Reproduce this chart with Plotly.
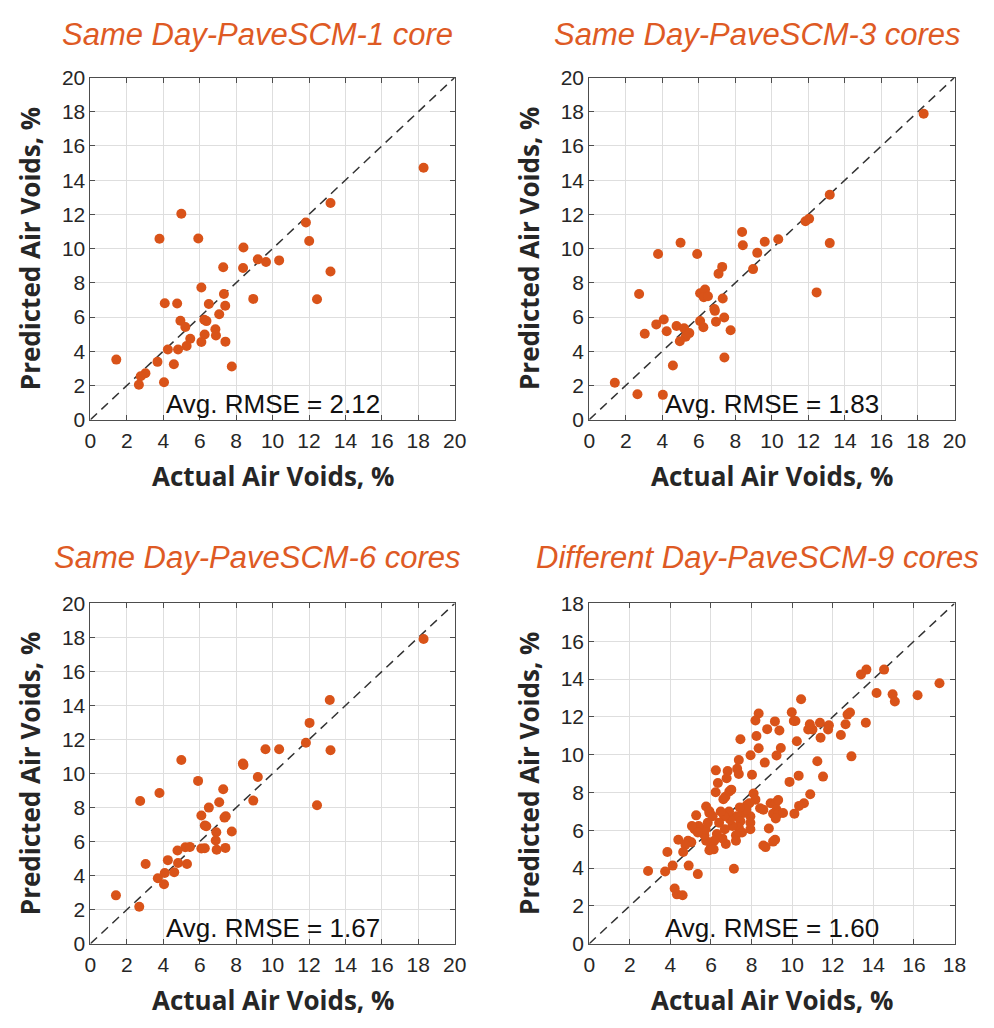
import plotly.graph_objects as go

# ---------------- data ----------------
titles = ["Same Day-PaveSCM-1 core", "Same Day-PaveSCM-3 cores",
          "Same Day-PaveSCM-6 cores", "Different Day-PaveSCM-9 cores"]
rmse_labels = ["Avg. RMSE = 2.12", "Avg. RMSE = 1.83", "Avg. RMSE = 1.67", "Avg. RMSE = 1.60"]
axis_max = [20, 20, 20, 18]

p1_actual = [18.29, 13.18, 11.83, 12.01, 13.18, 12.44, 4.99, 3.79, 5.92, 8.40, 8.38, 9.19, 9.64, 10.36,
             7.29, 8.94, 6.09, 4.08, 4.76, 6.50, 7.33, 7.40, 7.07, 4.94, 5.21, 6.25, 6.37, 6.86, 6.89,
             6.27, 5.48, 5.28, 6.09, 7.41, 4.81, 4.25, 3.68, 4.58, 1.42, 7.76, 3.02, 2.76, 2.66, 4.04]
p1_pred = [14.73, 12.67, 11.53, 10.44, 8.66, 7.04, 12.04, 10.57, 10.59, 10.06, 8.87, 9.37, 9.22, 9.31,
           8.91, 7.06, 7.73, 6.81, 6.79, 6.76, 7.35, 6.66, 6.16, 5.78, 5.42, 5.84, 5.76, 5.29, 4.92,
           4.98, 4.73, 4.31, 4.54, 4.56, 4.10, 4.10, 3.38, 3.24, 3.51, 3.11, 2.71, 2.54, 2.04, 2.19]

p2_actual = [18.31, 13.17, 13.17, 11.84, 12.04, 12.45, 8.37, 8.41, 9.61, 10.35, 9.20, 8.97, 5.00, 3.77,
             5.91, 7.28, 7.08, 2.73, 6.07, 6.34, 6.27, 6.50, 7.31, 6.85, 6.88, 6.07, 6.94, 7.39, 6.25,
             4.08, 3.67, 4.78, 5.19, 4.24, 5.48, 5.28, 4.96, 3.04, 7.74, 7.40, 4.58, 1.40, 2.64, 4.03]
p2_pred = [17.88, 13.15, 10.32, 11.60, 11.74, 7.44, 10.97, 10.19, 10.40, 10.55, 9.75, 8.80, 10.34, 9.68,
           9.68, 8.93, 8.53, 7.35, 7.39, 7.61, 7.16, 7.21, 7.08, 6.47, 6.36, 5.76, 5.73, 5.97, 5.40,
           5.86, 5.57, 5.48, 5.34, 5.17, 5.06, 4.85, 4.58, 5.02, 5.23, 3.63, 3.17, 2.16, 1.49, 1.45]

p3_actual = [18.29, 13.14, 13.18, 12.03, 11.83, 12.44, 9.61, 10.36, 9.19, 8.37, 8.40, 8.94, 4.99, 5.91,
             3.79, 2.73, 7.29, 7.07, 6.50, 6.09, 7.36, 7.43, 6.28, 6.36, 6.91, 7.76, 6.88, 6.09, 6.28,
             6.93, 7.41, 5.21, 5.46, 4.78, 4.25, 4.81, 5.30, 3.03, 4.08, 4.60, 3.70, 4.04, 1.40, 2.68]
p3_pred = [17.91, 14.33, 11.37, 12.98, 11.81, 8.14, 11.43, 11.43, 9.80, 10.59, 10.51, 8.41, 10.80, 9.57,
           8.86, 8.39, 9.08, 8.31, 8.00, 7.53, 7.41, 7.49, 6.95, 6.90, 6.55, 6.59, 6.07, 5.60, 5.61,
           5.52, 5.63, 5.67, 5.69, 5.48, 4.91, 4.74, 4.68, 4.68, 4.16, 4.20, 3.85, 3.49, 2.84, 2.17]

p4_actual = [17.26, 16.18, 14.95, 15.06, 14.16, 14.53, 13.66, 13.39, 13.63, 12.92, 12.85, 12.73, 12.63,
             12.40, 11.81, 11.77, 11.37, 11.40, 11.00, 10.79, 10.87, 11.52, 11.24, 10.89, 10.58, 10.34,
             10.11, 10.32, 9.87, 10.44, 9.98, 10.08, 10.16, 10.23, 9.37, 9.15, 8.77, 9.44, 9.23, 8.65,
             8.35, 8.19, 8.24, 8.35, 7.95, 7.45, 7.37, 8.02, 7.29, 7.37, 6.82, 6.77, 6.24, 6.34, 6.23,
             6.90, 7.00, 6.71, 6.61, 8.10, 8.19, 7.89, 7.77, 8.42, 8.58, 8.94, 9.19, 9.31, 9.23, 9.06,
             9.31, 9.55, 9.19, 8.85, 8.58, 8.69, 9.06, 9.16, 7.13, 7.94, 7.94, 7.94, 7.61, 7.74, 7.42,
             7.26, 7.45, 7.37, 7.53, 7.23, 7.23, 7.05, 6.94, 6.89, 6.65, 6.48, 6.40, 6.68, 6.73, 6.56,
             6.29, 6.16, 6.00, 5.92, 6.13, 5.76, 5.68, 5.73, 5.84, 5.92, 5.76, 5.92, 6.08, 5.27, 5.39,
             5.19, 5.06, 5.35, 4.87, 5.03, 4.74, 4.39, 4.63, 3.85, 4.11, 3.74, 2.90, 4.90, 5.35, 4.21,
             4.32, 4.60]
p4_pred = [13.78, 13.14, 13.19, 12.81, 13.26, 14.50, 14.50, 14.24, 11.69, 9.91, 12.23, 12.12, 11.61,
           11.04, 11.56, 11.33, 11.69, 10.90, 11.33, 11.33, 11.61, 8.84, 9.65, 7.91, 7.43, 7.29,
           6.88, 8.89, 8.56, 12.93, 12.24, 11.78, 11.78, 10.71, 11.28, 11.76, 11.35, 10.35, 9.96, 9.58,
           12.18, 11.81, 10.99, 10.34, 9.97, 10.82, 9.72, 8.94, 9.25, 8.98, 9.13, 8.75, 9.17, 8.50, 8.01,
           8.05, 8.15, 7.77, 7.64, 7.95, 7.62, 7.43, 7.34, 7.17, 7.09, 7.43, 7.46, 7.60, 7.09, 6.88,
           6.88, 6.91, 6.62, 6.09, 5.19, 5.11, 5.40, 5.50, 3.96, 6.74, 6.40, 6.05, 6.91, 7.09, 7.21,
           6.74, 6.48, 6.14, 5.88, 5.74, 5.45, 6.23, 6.57, 6.99, 6.74, 6.99, 6.40, 6.05, 5.28, 5.57,
           5.80, 5.45, 5.11, 4.94, 4.99, 5.45, 5.74, 6.05, 6.40, 6.91, 7.26, 7.00, 6.74, 6.79, 6.23,
           6.05, 6.23, 5.88, 5.45, 5.37, 5.23, 5.50, 4.85, 4.85, 4.13, 3.82, 3.85, 4.13, 3.68, 2.92,
           2.61, 2.56]

actuals = [p1_actual, p2_actual, p3_actual, p4_actual]
preds = [p1_pred, p2_pred, p3_pred, p4_pred]

# ---------------- layout geometry ----------------
W, H = 994, 1028


def px2x(p):
    return p / W


def px2y(p):
    return 1 - p / H


px_x = [(86, 457), (594, 966), (86, 457), (594, 966)]
px_y = [(67, 417), (67, 417), (605, 953), (605, 953)]
title_y = [23, 23, 558, 558]

MARKER = "#D95319"
TITLE_C = "#DE5A24"
AX_C = "#262626"
GRID_C = "#DEDEDE"
FRAME_C = "#4D4D4D"

fig = go.Figure()
annotations = []
for i in range(4):
    n = i + 1
    xa = "x" if n == 1 else f"x{n}"
    ya = "y" if n == 1 else f"y{n}"
    m = axis_max[i]
    # diagonal reference line
    fig.add_trace(go.Scatter(x=[0, m], y=[0, m], mode="lines", xaxis=xa, yaxis=ya,
                             line=dict(color="#333333", width=1.5, dash="9px,6px"),
                             showlegend=False, hoverinfo="skip"))
    fig.add_trace(go.Scatter(x=actuals[i], y=preds[i], mode="markers", xaxis=xa, yaxis=ya,
                             marker=dict(color=MARKER, size=10, line=dict(width=0)),
                             showlegend=False))
    x0, x1 = px_x[i]
    y0, y1 = px_y[i]
    axcommon = dict(range=[0, m], tickmode="linear", tick0=0, dtick=2,
                    showgrid=True, gridcolor=GRID_C, gridwidth=1,
                    showline=True, linecolor=FRAME_C, linewidth=1, mirror="ticks",
                    ticks="inside", ticklen=5, tickcolor=FRAME_C,
                    tickfont=dict(family="Liberation Sans, Arial", size=21, color=AX_C),
                    zeroline=False, fixedrange=True)
    fig.layout[f"xaxis{'' if n == 1 else n}"] = dict(domain=[px2x(x0), px2x(x1)], anchor=ya,
                                                     ticklabelstandoff=2, **axcommon)
    fig.layout[f"yaxis{'' if n == 1 else n}"] = dict(domain=[px2y(y1), px2y(y0)], anchor=xa,
                                                     **axcommon)

    cx = (x0 + x1) / 2
    # title
    annotations.append(dict(text=titles[i], x=px2x(cx - 15), y=px2y(title_y[i]),
                            xref="paper", yref="paper", showarrow=False,
                            xanchor="center", yanchor="middle",
                            font=dict(family="Liberation Sans, Arial", size=31, color=TITLE_C,
                                      style="italic")))
    # x-axis title
    annotations.append(dict(text="<b>Actual Air Voids, %</b>", x=px2x(cx), y=px2y(y1 + 58),
                            xref="paper", yref="paper", showarrow=False,
                            xanchor="center", yanchor="middle",
                            font=dict(family="Open Sans", size=26, color=AX_C)))
    # y-axis title
    annotations.append(dict(text="<b>Predicted Air Voids, %</b>", x=px2x(x0 - 62),
                            y=px2y((y0 + y1) / 2), textangle=-90,
                            xref="paper", yref="paper", showarrow=False,
                            xanchor="center", yanchor="middle",
                            font=dict(family="Open Sans", size=26, color=AX_C)))
    # RMSE label
    annotations.append(dict(text=rmse_labels[i], x=px2x(cx), y=px2y(y1 - 16),
                            xref="paper", yref="paper", showarrow=False,
                            xanchor="center", yanchor="middle",
                            font=dict(family="Liberation Sans, Arial", size=26, color="#111111")))

fig.update_layout(width=W, height=H, margin=dict(l=0, r=0, t=0, b=0),
                  paper_bgcolor="white", plot_bgcolor="white",
                  annotations=annotations, showlegend=False)

fig.write_html("out.html")
